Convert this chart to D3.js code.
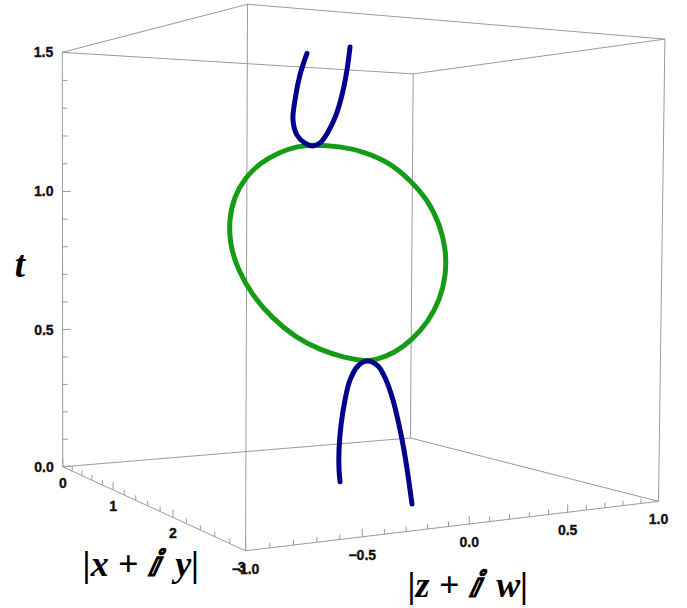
<!DOCTYPE html>
<html>
<head>
<meta charset="utf-8">
<script src="https://cdn.jsdelivr.net/npm/d3@7"></script>
<style>
  html, body { margin: 0; padding: 0; background: #fff; }
  .tick-label { font-family: "Liberation Sans", Arial, sans-serif; font-weight: bold; font-size: 14px;
                fill: #111; stroke: #111; stroke-width: 0.35px; }
  .axis-title { font-family: "Liberation Serif", "Times New Roman", serif; font-weight: bold; font-style: italic; fill: #000; }
</style>
</head>
<body>
<svg id="chart" width="687" height="608"></svg>
<script>
// ---- axis ranges and ticks ----
const rDomain = [0, 3];          // |x + i y|
const sDomain = [-1, 1];         // |z + i w|
const tDomain = [0, 1.5];        // t
const rMajor = [0, 1, 2, 3];
const sMajor = [-1, -0.5, 0, 0.5, 1];
const tMajor = [0, 0.5, 1, 1.5];
const rMinorStep = 0.2, sMinorStep = 0.1, tMinorStep = 0.1;

// ---- curves: (|x+iy|, t) pairs, |z+iw| = 0 along all of them ----
const ringR = [1.011, 1.411, 1.748, 2.066, 2.309, 2.520, 2.657, 2.726, 2.728, 2.664, 2.531, 2.347, 2.144, 1.895, 1.779,
               1.497, 1.144, 0.768, 0.401, 0.063, -0.184, -0.330, -0.350, -0.260, -0.066, 0.191, 0.519, 0.800];
const ringT = [1.172, 1.161, 1.136, 1.096, 1.039, 0.975, 0.898, 0.821, 0.745, 0.666, 0.593, 0.529, 0.479, 0.444, 0.435,
               0.433, 0.445, 0.476, 0.533, 0.611, 0.702, 0.798, 0.897, 0.988, 1.062, 1.117, 1.154, 1.171];
const lowerR = [1.439, 1.424, 1.422, 1.448, 1.501, 1.567, 1.674, 1.792, 1.934, 2.036, 2.124, 2.200, 2.262, 2.312, 2.362];
const lowerT = [0.000, 0.040, 0.109, 0.198, 0.288, 0.360, 0.414, 0.436, 0.426, 0.385, 0.324, 0.247, 0.170, 0.093, 0.004];
const upperR = [0.929, 0.825, 0.751, 0.721, 0.784, 0.906, 1.026, 1.128, 1.242, 1.353, 1.435, 1.501, 1.540];
const upperT = [1.500, 1.427, 1.339, 1.267, 1.211, 1.180, 1.168, 1.177, 1.213, 1.269, 1.336, 1.419, 1.495];
const curveS = 0;

// ---- 3D view ----
// data -> box coordinates (box centred on the origin, real proportions 3 : 2 : 1.5)
const bx = d3.scaleLinear().domain(rDomain).range([-1.5, 1.5]);
const by = d3.scaleLinear().domain(sDomain).range([-1, 1]);
const bz = d3.scaleLinear().domain(tDomain).range([-0.75, 0.75]);
// perspective camera (3x4 homogeneous projection of box coordinates to screen pixels)
const camera = [
  [ 43.70850, 214.22482,   -0.78898, 345.74734],
  [-17.17159,  16.69804, -293.28910, 265.81107],
  [ -0.08507,   0.07298,   -0.00731,   1.00000]
];
function project(r, s, t) {
  const q = [bx(r), by(s), bz(t), 1];
  const h = camera.map(row => row[0]*q[0] + row[1]*q[1] + row[2]*q[2] + row[3]);
  return [h[0] / h[2], h[1] / h[2]];
}

const svg = d3.select("#chart");
const boxColor = "#9a9a9a";

// ---- bounding box ----
const [r0, r1] = rDomain, [s0, s1] = sDomain, [t0, t1] = tDomain;
const edges = [];
for (const s of [s0, s1]) for (const t of [t0, t1]) edges.push([[r0, s, t], [r1, s, t]]);
for (const r of [r0, r1]) for (const t of [t0, t1]) edges.push([[r, s0, t], [r, s1, t]]);
for (const r of [r0, r1]) for (const s of [s0, s1]) edges.push([[r, s, t0], [r, s, t1]]);

const gBox = svg.append("g");
gBox.selectAll("line.edge").data(edges).join("line")
  .attr("class", "edge")
  .each(function(e) {
    const a = project(...e[0]), b = project(...e[1]);
    d3.select(this).attr("x1", a[0]).attr("y1", a[1]).attr("x2", b[0]).attr("y2", b[1]);
  })
  .attr("stroke", boxColor).attr("stroke-width", 1);

// ---- ticks ----
function range(lo, hi, step) {
  const n = Math.round((hi - lo) / step);
  return d3.range(n + 1).map(i => +(lo + i * step).toFixed(6));
}
// draw a tick of fixed screen length at point p, pointing along the 3D direction d
function tick(g, p, d, len) {
  const a = project(...p);
  const b = project(p[0] + d[0], p[1] + d[1], p[2] + d[2]);
  const L = Math.hypot(b[0] - a[0], b[1] - a[1]);
  g.append("line")
    .attr("x1", a[0]).attr("y1", a[1])
    .attr("x2", a[0] + (b[0] - a[0]) / L * len).attr("y2", a[1] + (b[1] - a[1]) / L * len)
    .attr("stroke", boxColor).attr("stroke-width", 1);
}
const gTicks = svg.append("g");
const isMajor = (v, list) => list.some(m => Math.abs(m - v) < 1e-6);

// |x+iy| axis: front-left bottom edge
range(r0, r1, rMinorStep).forEach(v => tick(gTicks, [v, s0, t0], [0, 0, 0.05], isMajor(v, rMajor) ? 8 : 5));
// |z+iw| axis: front-right bottom edge
range(s0, s1, sMinorStep).forEach(v => tick(gTicks, [r1, v, t0], [0, 0, 0.05], isMajor(v, sMajor) ? 8 : 5));
// t axis: left vertical edge
range(t0, t1, tMinorStep).forEach(v => tick(gTicks, [r0, s0, v], [0, 0.05, 0], isMajor(v, tMajor) ? 8 : 5));

// ---- tick labels ----
const fmt1 = d3.format(".1f");
const minus = v => v < 0 ? "\u2212" + fmt1(-v) : fmt1(v);
const gLab = svg.append("g");
rMajor.forEach(v => {
  const p = project(v, s0, t0);
  gLab.append("text").attr("class", "tick-label")
    .attr("x", p[0] - (v === r1 ? 4 : 0)).attr("y", p[1] + 21)
    .attr("text-anchor", "middle").text(d3.format("d")(v));
});
sMajor.forEach(v => {
  const p = project(r1, v, t0);
  gLab.append("text").attr("class", "tick-label")
    .attr("x", p[0]).attr("y", p[1] + 23)
    .attr("text-anchor", "middle").text(minus(v));
});
tMajor.forEach(v => {
  const p = project(r0, s0, v);
  gLab.append("text").attr("class", "tick-label")
    .attr("x", p[0] - 9).attr("y", p[1] + 5)
    .attr("text-anchor", "end").text(fmt1(v));
});

// ---- curves ----
const line = d3.line().curve(d3.curveCatmullRom.alpha(0.5));
const lineClosed = d3.line().curve(d3.curveBasisClosed);
const pts = (R, T) => R.map((r, i) => project(r, curveS, T[i]));

const gCurves = svg.append("g").attr("fill", "none").attr("stroke-linecap", "round").attr("stroke-linejoin", "round");
gCurves.append("path").attr("d", lineClosed(pts(ringR, ringT)))
  .attr("stroke", "#169b16").attr("stroke-width", 5);
gCurves.append("path").attr("d", line(pts(lowerR, lowerT)))
  .attr("stroke", "#00008c").attr("stroke-width", 5);
gCurves.append("path").attr("d", line(pts(upperR, upperT)))
  .attr("stroke", "#00008c").attr("stroke-width", 5);

// ---- axis titles ----
svg.append("text").attr("class", "axis-title").attr("x", 20).attr("y", 277)
  .attr("text-anchor", "middle").style("font-size", "37px").text("t");
svg.append("text").attr("class", "axis-title").attr("x", 141).attr("y", 576)
  .attr("text-anchor", "middle").style("font-size", "36px").text("|x + \u2148\u2009 y|");
svg.append("text").attr("class", "axis-title").attr("x", 468).attr("y", 597)
  .attr("text-anchor", "middle").style("font-size", "36px").text("|z + \u2148\u2009 w|");
</script>
</body>
</html>
